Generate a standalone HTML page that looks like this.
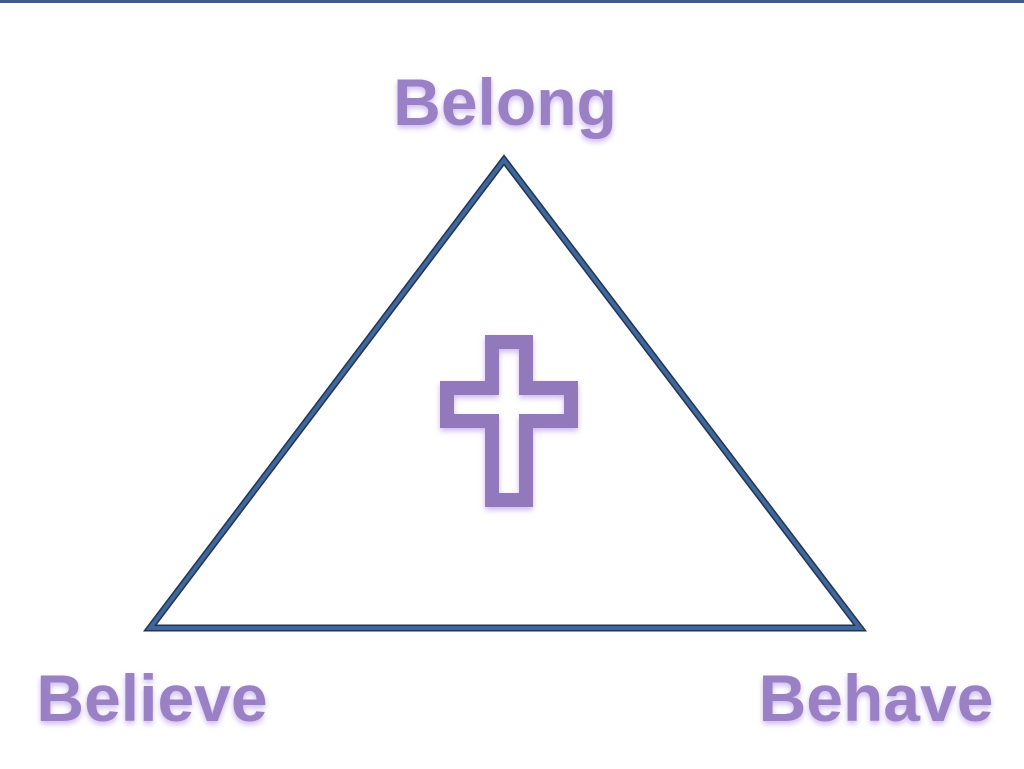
<!DOCTYPE html>
<html><head><meta charset="utf-8"><style>
html,body{margin:0;padding:0;background:#fff;width:1024px;height:769px;overflow:hidden}
</style></head><body>
<svg width="1024" height="769" viewBox="0 0 1024 769" xmlns="http://www.w3.org/2000/svg">
<defs>
<filter id="g" x="-20%" y="-30%" width="140%" height="160%">
<feGaussianBlur in="SourceAlpha" stdDeviation="3" result="b"/>
<feFlood flood-color="#c9b0ef" flood-opacity="0.9"/>
<feComposite in2="b" operator="in" result="gl"/>
<feOffset in="gl" dx="0" dy="3" result="o"/>
<feMerge><feMergeNode in="o"/><feMergeNode in="SourceGraphic"/></feMerge>
</filter>
</defs>
<rect x="0" y="0" width="1024" height="3" fill="#3d5d8c"/>
<polygon points="504,160 150,628 860,628" fill="none" stroke="#1f3555" stroke-width="7" stroke-linejoin="miter"/>
<polygon points="504,160 150,628 860,628" fill="none" stroke="#41669a" stroke-width="4" stroke-linejoin="miter"/>
<g font-family="Liberation Sans, sans-serif" font-weight="bold" font-size="66" fill="#9a80c4" filter="url(#g)">
<text x="505" y="125" text-anchor="middle">Belong</text>
<text x="152" y="721" text-anchor="middle">Believe</text>
<text x="876" y="721" text-anchor="middle">Behave</text>
</g>
<path filter="url(#g)" fill="#9179bb" fill-rule="evenodd" d="M485,335 H533 V381 H578 V428 H533 V507 H485 V428 H440 V381 H485 Z M499,349 V395 H454 V414 H499 V493 H519 V414 H564 V395 H519 V349 Z"/>
</svg>
</body></html>
